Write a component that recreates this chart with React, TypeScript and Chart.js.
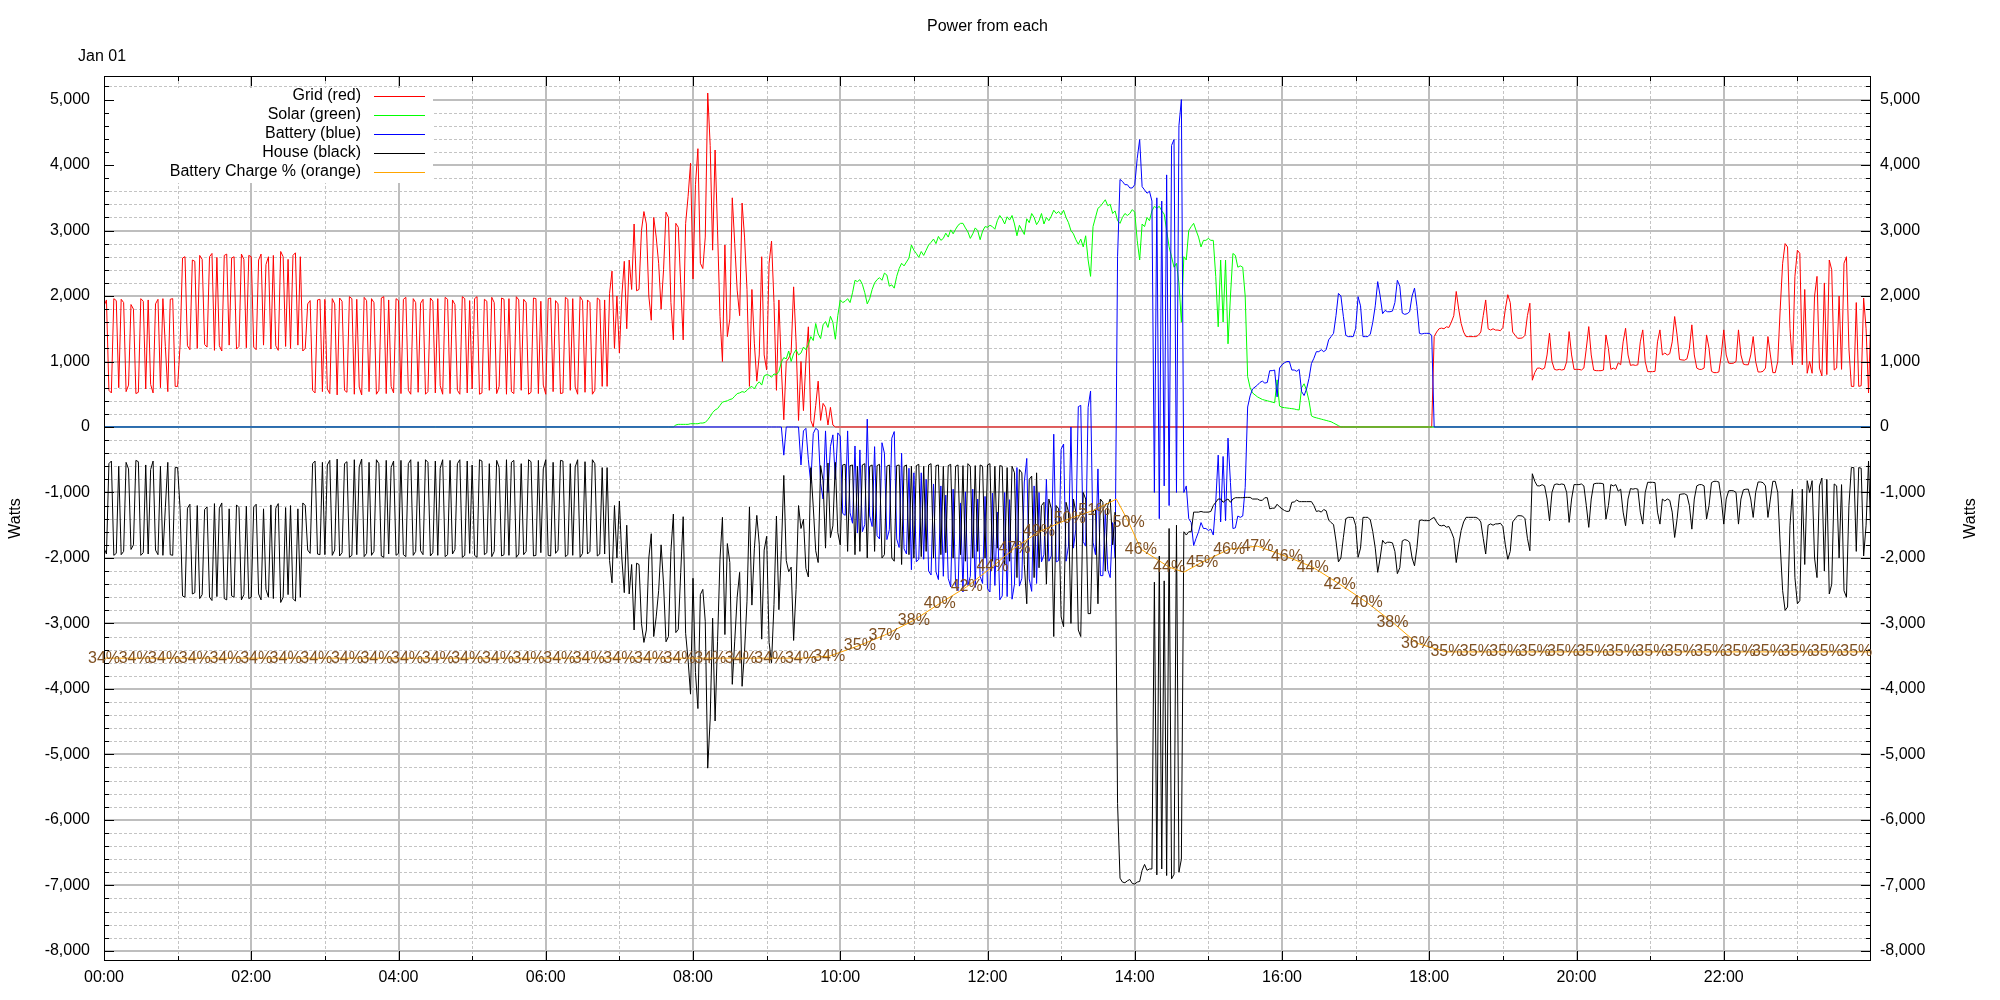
import React, { useEffect, useRef } from 'react';
import { Chart, registerables } from 'chart.js';

Chart.register(...registerables);

const FONT = '"Liberation Sans", Arial, Helvetica, sans-serif';
const STEP_MIN = 2; // sampling step of the series arrays, in minutes

// ---- axes ----
const timeTickMinutes = [0, 120, 240, 360, 480, 600, 720, 840, 960, 1080, 1200, 1320];
const timeTickLabels = ['00:00', '02:00', '04:00', '06:00', '08:00', '10:00', '12:00', '14:00', '16:00', '18:00', '20:00', '22:00'];
const wattTicks = [-8000, -7000, -6000, -5000, -4000, -3000, -2000, -1000, 0, 1000, 2000, 3000, 4000, 5000];
const WATT_MIN = -8155;
const WATT_MAX = 5360;
const DAY_MINUTES = 1440;

// ---- series (watts, one value every 2 minutes from the given start minute) ----
const IDLE = [0];

// Grid (red) 00:00 - 10:00
const gridMorning = [
  1850, 1940, 560, 520, 1960, 1930, 600, 1950, 1900, 540, 640, 1870, 1800, 510, 530, 1960, 1920, 580, 1940, 650, 520, 1880, 1950, 600, 1960, 1230, 540, 1950, 1960, 620,
  620, 1250, 2580, 2600, 1240, 1180, 2550, 2530, 1200, 2620, 2560, 1260, 1220, 2600, 2650, 1170, 2590, 1240, 1160, 2620, 2640, 1250, 2580, 2600, 1190, 1230, 2640, 2560, 1210, 2620,
  2600, 1220, 1180, 2550, 2640, 1250, 2480, 2600, 1190, 2620, 1240, 1170, 2680, 2600, 1230, 2560, 1200, 2620, 2660, 1250, 2600, 1160, 1200, 1880, 1930, 560, 520, 1940, 1950, 540,
  1950, 580, 510, 1960, 1880, 490, 1970, 1920, 560, 530, 1990, 1960, 500, 1950, 610, 490, 1980, 1930, 540, 1960, 1900, 500, 560, 1970, 1990, 510, 1940, 620, 520, 1960,
  1930, 510, 1950, 1980, 560, 500, 1960, 1900, 530, 1890, 1950, 500, 540, 1970, 1920, 520, 1960, 630, 500, 1980, 1950, 510, 1940, 1870, 560, 500, 1990, 1960, 520, 1930,
  580, 1960, 1990, 500, 520, 1950, 1920, 560, 1980, 1900, 510, 620, 1970, 1950, 500, 1960, 540, 510, 1990, 1940, 560, 1950, 1900, 500, 530, 1970, 1960, 510, 1920, 640,
  500, 1960, 1970, 540, 1930, 1880, 510, 520, 1980, 1950, 560, 1960, 610, 500, 1990, 1930, 530, 1940, 1900, 500, 560, 1970, 1940, 620, 1940, 620, 2040, 2380, 1200, 2000,
  1130, 2000, 2530, 1500, 2550, 2100, 3100, 2080, 2100, 3000, 3290, 3100, 2000, 1630, 3200, 2900, 2500, 1800, 2400, 3280, 3200, 1900, 1330, 3110, 3050, 2180, 1330, 3110, 3520, 4030,
  2260, 3700, 4250, 2500, 2420, 2900, 5100, 4300, 2700, 4230, 3000, 1690, 1000, 2780, 1380, 1650, 3500, 2800, 2090, 1700, 3420, 2900, 2100, 620, 2100, 1280, 700, 1100, 2600, 1100,
  870, 2500, 2840, 1900, 560, 1940, 900, 110, 1000, 1050, 1140, 2140, 1300, 100, 1000, 250, 1000, 1530, 100, 0, 330, 700, 100, 360, 300, 30, 300, 30, 0, 0,
  0,
];

// Grid (red) 18:00 - 24:00
const gridEvening = [
  0, 0, 1381, 1450, 1500, 1510, 1500, 1530, 1520, 1600, 1700, 2070, 1800, 1580, 1450, 1380, 1380, 1380, 1380, 1380, 1400, 1450, 1700, 1940, 1500, 1480, 1500, 1480, 1480, 1470,
  1520, 1800, 2020, 1900, 1450, 1400, 1355, 1355, 1360, 1400, 1700, 1890, 714, 830, 898, 900, 880, 900, 1100, 1432, 1000, 880, 870, 880, 870, 880, 1000, 1457, 1100, 880,
  880, 880, 870, 900, 1200, 1533, 1100, 870, 860, 860, 860, 870, 1406, 1200, 880, 900, 880, 980, 950, 1300, 1508, 1100, 940, 950, 940, 950, 1300, 1483, 1000, 845,
  845, 845, 850, 1300, 1483, 1100, 1130, 1100, 1120, 1300, 1687, 1400, 1030, 1024, 1020, 1040, 1200, 1560, 1100, 900, 880, 880, 900, 1406, 1200, 850, 830, 830, 840, 1100,
  1483, 1100, 975, 970, 975, 1000, 1483, 1100, 960, 950, 950, 1100, 1381, 1000, 840, 840, 850, 900, 1381, 1100, 830, 830, 1000, 1800, 2500, 2800, 2750, 1500, 950, 2300,
  2700, 2650, 950, 2100, 820, 1000, 820, 2000, 2300, 900, 780, 2200, 800, 2550, 2400, 870, 900, 2000, 880, 2500, 2600, 1200, 620, 620, 1900, 620, 630, 1970, 1500, 520,
  1790,
];

// Solar (green) 07:40 - 16:50
const solarDay = [
  0, 0, 0, 30, 40, 40, 40, 40, 40, 50,
  50, 50, 50, 60, 60, 70, 110, 160, 220, 260,
  280, 330, 380, 390, 400, 420, 430, 470, 510, 520,
  540, 530, 560, 600, 620, 580, 650, 690, 640, 780,
  800, 790, 760, 810, 800, 850, 990, 1060, 1040, 1160,
  1000, 1120, 1180, 1100, 1130, 1220, 1180, 1260, 1380, 1320,
  1580, 1420, 1350, 1560, 1610, 1520, 1690, 1600, 1340, 1700,
  1940, 1900, 1920, 1960, 1900, 2050, 2240, 2220, 2250, 2180,
  2050, 1880, 1960, 2100, 2200, 2250, 2280, 2240, 2350, 2320,
  2150, 2170, 2120, 2300, 2420, 2500, 2460, 2520, 2580, 2780,
  2700, 2650, 2590, 2680, 2620, 2700, 2780, 2820, 2870, 2800,
  2910, 2850, 2880, 2960, 2900, 3010, 2950, 3020, 3080, 3110,
  3110, 3040, 2980, 2880, 2950, 3040, 3000, 2860, 2990, 3060,
  3050, 3080, 3060, 3020, 3150, 3230, 3180, 3100, 3210, 3160,
  3230, 3100, 2920, 3080, 3010, 2940, 3180, 3120, 3260, 3200,
  3090, 3150, 3260, 3100, 3200, 3150, 3220, 3310, 3260, 3290,
  3240, 3310, 3200, 3120, 3000, 2950, 2860, 2790, 2870, 2750,
  2920, 2550, 2300, 3060, 3200, 3340, 3370, 3420, 3470, 3380,
  3400, 3260, 3300, 3150, 3110, 3200, 3260, 3230, 3260, 3320,
  3280, 2850, 2550, 3100, 3060, 3200, 3150, 3300, 3370, 3340,
  3370, 3300, 3250, 3000, 2750, 2600, 2440, 2500, 2200, 1600,
  2600, 2550, 3000, 3060, 3110, 3000, 2900, 2750, 2850, 2850,
  2880, 2850, 2850, 2300, 1530, 2550, 1600, 2550, 1270, 2000,
  2650, 2620, 2440, 2460, 2440, 2000, 770, 600, 520, 490,
  460, 440, 420, 410, 400, 390, 380, 370, 720, 320,
  300, 295, 290, 285, 280, 275, 265, 260, 600, 660,
  560, 400, 170, 150, 140, 130, 120, 110, 100, 90,
  80, 60, 40, 20, 0, 0,
];

// Battery (blue) 09:00 - 18:04
const batteryDay = [
  0, 0, 0, 0, 0, 0, 0, -430, 0, 0, 0, 0, 0, 0, -580, -60, -20, -500, -860, -100, -20, -50, -860, -1100, -60, -1000, -300, -120, -800, -90,
  -140, -1320, -1350, -60, -1310, -1470, -290, -1620, -350, -1600, -1490, 120, -1360, -1520, -300, -1660, -1710, -240, -400, -1720, -1570, -170, -70, -1710, -1840, -400, -1860, -1940, -630, -2180,
  -700, -2060, -2020, -700, -2020, -800, -2200, -2260, -870, -2210, -2330, -900, -2280, -1040, -2310, -2440, -950, -2420, -2500, -1160, -2520, -990, -2420, -2280, -950, -2450, -1100, -2280, -2390, -1060,
  -2470, -2520, -1010, -2420, -1300, -2640, -2580, -1000, -2590, -1110, -2630, -2400, -620, -2430, -2310, -840, -480, -2320, -2510, -900, -2390, -1000, -2060, -1950, -800, -2050, -1970, -110, -2060, -2040,
  -340, -260, -2050, -1820, 0, -1850, -1560, 310, 330, -1750, -1820, 300, 550, -1760, -1950, -640, -2270, -2270, -1270, -2180, -2300, -1460, -2000, 2600, 3780, 3750, 3700, 3700, 3650, 3650,
  3700, 4100, 4390, 3670, 3620, 3570, 3600, 3450, -1000, 3500, -1400, 3450, -900, 3850, -1200, 4300, 4390, -1000, 4600, 5000, -1000, -900, -1400, -1460, -1810, -1700, -1600, -1460, -1550, -1550,
  -1580, -1560, -1650, -1150, -430, -1450, -450, -1430, -170, -850, -1550, -1540, -1360, -1380, -1360, -925, 305, 475, 580, 610, 640, 680, 700, 670, 680, 860, 860, 870, 460, 900,
  950, 980, 1000, 1000, 870, 870, 850, 880, 540, 480, 580, 740, 970, 1050, 1150, 1150, 1180, 1150, 1180, 1330, 1380, 1430, 1700, 2040, 2000, 1690, 1400, 1380, 1380, 1380,
  1500, 1990, 1850, 1380, 1380, 1380, 1420, 1600, 1850, 2220, 2000, 1730, 1780, 1760, 1760, 1770, 1900, 2240, 2150, 1740, 1720, 1730, 1760, 2000, 2120, 1840, 1430, 1420, 1430, 1430,
  1430, 1400, 0,
];

// House (black) 00:00 - 24:00
const houseDay = [
  -1850, -1940, -560, -520, -1960, -1930, -600, -1950, -1900, -540, -640, -1870, -1800, -510, -530, -1960, -1920, -580, -1940, -650, -520, -1880, -1950, -600, -1960, -1230, -540, -1950, -1960, -620,
  -620, -1250, -2580, -2600, -1240, -1180, -2550, -2530, -1200, -2620, -2560, -1260, -1220, -2600, -2650, -1170, -2590, -1240, -1160, -2620, -2640, -1250, -2580, -2600, -1190, -1230, -2640, -2560, -1210, -2620,
  -2600, -1220, -1180, -2550, -2640, -1250, -2480, -2600, -1190, -2620, -1240, -1170, -2680, -2600, -1230, -2560, -1200, -2620, -2660, -1250, -2600, -1160, -1200, -1880, -1930, -560, -520, -1940, -1950, -540,
  -1950, -580, -510, -1960, -1880, -490, -1970, -1920, -560, -530, -1990, -1960, -500, -1950, -610, -490, -1980, -1930, -540, -1960, -1900, -500, -560, -1970, -1990, -510, -1940, -620, -520, -1960,
  -1930, -510, -1950, -1980, -560, -500, -1960, -1900, -530, -1890, -1950, -500, -540, -1970, -1920, -520, -1960, -630, -500, -1980, -1950, -510, -1940, -1870, -560, -500, -1990, -1960, -520, -1930,
  -580, -1960, -1990, -500, -520, -1950, -1920, -560, -1980, -1900, -510, -620, -1970, -1950, -500, -1960, -540, -510, -1990, -1940, -560, -1950, -1900, -500, -530, -1970, -1960, -510, -1920, -640,
  -500, -1960, -1970, -540, -1930, -1880, -510, -520, -1980, -1950, -560, -1960, -610, -500, -1990, -1930, -530, -1940, -1900, -500, -560, -1970, -1940, -620, -1940, -620, -2040, -2380, -1200, -2000,
  -1130, -2000, -2530, -1500, -2550, -2100, -3100, -2080, -2100, -3000, -3290, -3100, -2000, -1630, -3200, -2900, -2500, -1800, -2400, -3280, -3200, -1900, -1330, -3140, -3090, -2220, -1370, -3150, -3560, -4080,
  -2310, -3750, -4300, -2560, -2480, -2970, -5210, -4460, -2920, -4490, -3280, -2020, -1380, -3170, -1780, -2070, -3930, -3270, -2600, -2220, -3960, -3430, -2660, -1220, -2720, -1860, -1350, -1790, -3240, -1880,
  -1670, -3290, -3600, -2710, -1360, -2790, -1890, -740, -2040, -2210, -2140, -3260, -2480, -1200, -1550, -1410, -2160, -2290, -620, -1220, -1890, -2070, -590, -820, -1850, -550, -1690, -1510, -540, -1610,
  -1800, -580, -570, -1900, -590, -580, -1950, -600, -1900, -580, -560, -2000, -600, -580, -1900, -590, -570, -2000, -1950, -600, -580, -2000, -2050, -590, -580, -2100, -600, -580, -1950, -600,
  -2000, -590, -570, -1980, -600, -1900, -580, -560, -2000, -590, -580, -1950, -600, -1920, -590, -570, -2000, -600, -580, -1950, -590, -2050, -560, -600, -2000, -590, -1900, -580, -600, -2000,
  -580, -560, -2050, -600, -1850, -590, -600, -2100, -620, -2050, -600, -700, -2300, -650, -700, -2100, -2700, -800, -750, -2300, -700, -2150, -1200, -1150, -2400, -1100, -1250, -3200, -1200, -1250,
  -2900, -3050, -1150, -1300, -3000, -1100, -1300, -3100, -3200, -1000, -1100, -2850, -2850, -1300, -1250, -2700, -1100, -1150, -2200, -1200, -1100, -1800, -1300, -5750, -6890, -6950, -6960, -6930, -6910, -6970,
  -6980, -6950, -6940, -6770, -6680, -6770, -6750, -6750, -2370, -6840, -1970, -6750, -2350, -6850, -1550, -6900, -6830, -1500, -6800, -6600, -1600, -1650, -1600, -1600, -1300, -1300, -1300, -1290, -1300, -1300,
  -1300, -1290, -1200, -1150, -1100, -1100, -1150, -1120, -1100, -1150, -1100, -1080, -1080, -1080, -1080, -1075, -1075, -1075, -1100, -1100, -1100, -1120, -1120, -1080, -1080, -1250, -1240, -1240, -1180, -1220,
  -1250, -1275, -1290, -1285, -1150, -1145, -1115, -1140, -1140, -1140, -1140, -1140, -1140, -1200, -1290, -1280, -1300, -1260, -1280, -1420, -1460, -1490, -1740, -2060, -2000, -1690, -1400, -1380, -1380, -1380,
  -1500, -1990, -1850, -1380, -1380, -1380, -1420, -1600, -1850, -2220, -2000, -1730, -1780, -1760, -1760, -1770, -1900, -2240, -2150, -1740, -1720, -1730, -1760, -2000, -2120, -1840, -1430, -1420, -1430, -1430,
  -1430, -1400, -1381, -1450, -1500, -1510, -1500, -1530, -1520, -1600, -1700, -2070, -1800, -1580, -1450, -1380, -1380, -1380, -1380, -1380, -1400, -1450, -1700, -1940, -1500, -1480, -1500, -1480, -1480, -1470,
  -1520, -1800, -2020, -1900, -1450, -1400, -1355, -1355, -1360, -1400, -1700, -1890, -714, -830, -898, -900, -880, -900, -1100, -1432, -1000, -880, -870, -880, -870, -880, -1000, -1457, -1100, -880,
  -880, -880, -870, -900, -1200, -1533, -1100, -870, -860, -860, -860, -870, -1406, -1200, -880, -900, -880, -980, -950, -1300, -1508, -1100, -940, -950, -940, -950, -1300, -1483, -1000, -845,
  -845, -845, -850, -1300, -1483, -1100, -1130, -1100, -1120, -1300, -1687, -1400, -1030, -1024, -1020, -1040, -1200, -1560, -1100, -900, -880, -880, -900, -1406, -1200, -850, -830, -830, -840, -1100,
  -1483, -1100, -975, -970, -975, -1000, -1483, -1100, -960, -950, -950, -1100, -1381, -1000, -840, -840, -850, -900, -1381, -1100, -830, -830, -1000, -1800, -2500, -2800, -2750, -1500, -950, -2300,
  -2700, -2650, -950, -2100, -820, -1000, -820, -2000, -2300, -900, -780, -2200, -800, -2550, -2400, -870, -900, -2000, -880, -2500, -2600, -1200, -620, -620, -1900, -620, -630, -1970, -1500, -520,
  -1790,
];

// Battery charge: minute of day, level drawn on the Watts axis, and the % label shown there
const chargeMinutes = [
  0, 25, 49, 74, 99, 124, 148, 173, 198, 222, 247, 272, 296, 321, 346, 371, 395, 420, 445, 469, 494, 519, 543, 568,
  591, 616, 636, 660, 681, 703, 724, 742, 762, 787, 807, 825, 835, 845, 868, 880, 895, 917, 940, 964, 985, 1007, 1029, 1050, 1070,
  1094, 1118, 1142, 1166, 1189, 1213, 1237, 1261, 1285, 1309, 1333, 1356, 1380, 1404, 1428, 1440,
];
const chargeLevels = [
  -3530, -3530, -3530, -3530, -3530, -3530, -3530, -3530, -3530, -3530, -3530, -3530, -3530, -3530, -3530, -3530, -3530, -3530, -3530, -3530, -3530, -3530, -3530, -3530,
  -3500, -3333, -3180, -2951, -2696, -2441, -2135, -1850, -1600, -1396, -1270, -1101, -1453, -1865, -2140, -2217, -2064, -1865, -1820, -1980, -2140, -2400, -2676, -2981, -3303,
  -3435, -3435, -3435, -3435, -3435, -3435, -3435, -3435, -3435, -3435, -3435, -3435, -3435, -3435, -3435, -3435,
];
const chargePercent = [
  34, 34, 34, 34, 34, 34, 34, 34, 34, 34, 34, 34, 34, 34, 34, 34, 34, 34, 34, 34, 34, 34, 34, 34,
  34, 35, 37, 38, 40, 42, 44, 47, 49, 50, 51, null, 50, 46, 44, null, 45, 46, 47, 46, 44, 42, 40, 38, 36,
  35, 35, 35, 35, 35, 35, 35, 35, 35, 35, 35, 35, 35, 35, 35, null,
];

const legendItems = [
  { text: 'Grid (red)', color: '#ff0000' },
  { text: 'Solar (green)', color: '#00ff00' },
  { text: 'Battery (blue)', color: '#0000ff' },
  { text: 'House (black)', color: '#000000' },
  { text: 'Battery Charge % (orange)', color: '#ffa500' },
];

function seq(start: number, values: number[], step = STEP_MIN) {
  return values.map((v, i) => ({ x: start + i * step, y: v }));
}

const gridPoints = [...seq(0, gridMorning), ...seq(1080, gridEvening)];
const solarPoints = [...seq(0, IDLE), ...seq(460, solarDay), ...seq(DAY_MINUTES, IDLE)];
const batteryPoints = [...seq(0, IDLE), ...seq(540, batteryDay), ...seq(DAY_MINUTES, IDLE)];
const housePoints = seq(0, houseDay);
const chargePoints = chargeMinutes.map((m, i) => ({ x: m, y: chargeLevels[i] }));

const GRID_MAJOR = '#bebebe';
const GRID_MINOR = '#c4c4c4';
const LABEL_BROWN = '#7f5022';

const gnuplotFrame = {
  id: 'gnuplotFrame',
  beforeDatasetsDraw(chart: any) {
    const { ctx, chartArea: a, scales } = chart;
    const xs = scales.x;
    const ys = scales.y;
    ctx.save();
    const hline = (py: number) => { ctx.beginPath(); ctx.moveTo(a.left, py); ctx.lineTo(a.right, py); ctx.stroke(); };
    const vline = (px: number) => { ctx.beginPath(); ctx.moveTo(px, a.top); ctx.lineTo(px, a.bottom); ctx.stroke(); };
    // minor grid
    ctx.strokeStyle = GRID_MINOR;
    ctx.lineWidth = 1;
    ctx.setLineDash([3, 2]);
    for (let m = 60; m < DAY_MINUTES; m += 120) vline(Math.round(xs.getPixelForValue(m)) + 0.5);
    for (let v = -8000; v <= 5200; v += 200) {
      if (v % 1000 !== 0) hline(Math.round(ys.getPixelForValue(v)) + 0.5);
    }
    // major grid
    ctx.setLineDash([]);
    ctx.strokeStyle = GRID_MAJOR;
    ctx.lineWidth = 2;
    for (let m = 120; m < DAY_MINUTES; m += 120) vline(Math.round(xs.getPixelForValue(m)));
    for (const v of wattTicks) hline(Math.round(ys.getPixelForValue(v)));
    // opaque key box
    ctx.fillStyle = '#ffffff';
    ctx.fillRect(a.left + 1, a.top + 12, 328, 95);
    ctx.restore();
  },
  afterDatasetsDraw(chart: any) {
    const { ctx, chartArea: a, scales } = chart;
    const xs = scales.x;
    const ys = scales.y;
    ctx.save();
    // border
    ctx.strokeStyle = '#000';
    ctx.lineWidth = 1;
    ctx.strokeRect(a.left + 0.5, a.top + 0.5, a.right - a.left - 1, a.bottom - a.top - 1);
    // tick marks, inward on all four sides
    ctx.beginPath();
    for (let v = -8000; v <= 5200; v += 200) {
      const py = Math.round(ys.getPixelForValue(v)) + 0.5;
      const len = v % 1000 === 0 ? 10 : 5;
      ctx.moveTo(a.left, py); ctx.lineTo(a.left + len, py);
      ctx.moveTo(a.right, py); ctx.lineTo(a.right - len, py);
    }
    for (let m = 60; m < DAY_MINUTES; m += 60) {
      const px = Math.round(xs.getPixelForValue(m)) + 0.5;
      const len = m % 120 === 0 ? 10 : 5;
      ctx.moveTo(px, a.bottom); ctx.lineTo(px, a.bottom - len);
      ctx.moveTo(px, a.top); ctx.lineTo(px, a.top + len);
    }
    ctx.stroke();

    ctx.font = `16px ${FONT}`;
    ctx.textBaseline = 'middle';
    // key
    legendItems.forEach((item, i) => {
      const ry = a.top + 20 + i * 19;
      ctx.fillStyle = '#000';
      ctx.textAlign = 'right';
      ctx.fillText(item.text, a.left + 257, ry);
      ctx.strokeStyle = item.color;
      ctx.beginPath();
      ctx.moveTo(a.left + 270, ry + 0.5);
      ctx.lineTo(a.left + 321, ry + 0.5);
      ctx.stroke();
    });
    // battery charge labels
    ctx.fillStyle = LABEL_BROWN;
    ctx.textAlign = 'center';
    chargeMinutes.forEach((m, i) => {
      const p = chargePercent[i];
      if (p === null) return;
      ctx.fillText(`${p}%`, xs.getPixelForValue(m), ys.getPixelForValue(chargeLevels[i]));
    });
    // title, date, axis titles
    ctx.fillStyle = '#000';
    ctx.textAlign = 'center';
    ctx.fillText('Power from each', (a.left + a.right) / 2, 27);
    ctx.textAlign = 'left';
    ctx.fillText('Jan 01', 78, 57);
    const midY = (a.top + a.bottom) / 2;
    ctx.textAlign = 'center';
    ctx.save();
    ctx.translate(16, midY);
    ctx.rotate(-Math.PI / 2);
    ctx.fillText('Watts', 0, 0);
    ctx.restore();
    ctx.save();
    ctx.translate(1971, midY);
    ctx.rotate(-Math.PI / 2);
    ctx.fillText('Watts', 0, 0);
    ctx.restore();
    ctx.restore();
  },
};

const wattTickOptions = {
  color: '#000',
  font: { family: FONT, size: 16 },
  autoSkip: false,
  callback: (v: any) => Number(v).toLocaleString('en-US'),
};

export default function App() {
  const ref = useRef<HTMLCanvasElement>(null);
  useEffect(() => {
    document.body.style.margin = '0';
    const line = (label: string, data: any[], color: string, order: number) => ({
      label, data, borderColor: color, backgroundColor: color, borderWidth: 1,
      pointRadius: 0, fill: false, tension: 0, order, yAxisID: 'y',
    });
    const chart = new Chart(ref.current as HTMLCanvasElement, {
      type: 'line',
      data: {
        datasets: [
          line('Grid (red)', gridPoints, '#ff0000', 5),
          line('Solar (green)', solarPoints, '#00ff00', 4),
          line('Battery (blue)', batteryPoints, '#0000ff', 3),
          line('House (black)', housePoints, '#000000', 2),
          line('Battery Charge % (orange)', chargePoints, '#ffa500', 1),
        ],
      },
      options: {
        animation: false,
        responsive: false,
        devicePixelRatio: 1,
        events: [],
        layout: { padding: { left: 0, right: 0, top: 76, bottom: 0 } },
        plugins: { legend: { display: false }, title: { display: false }, tooltip: { enabled: false } },
        scales: {
          x: {
            type: 'linear', position: 'bottom', min: 0, max: DAY_MINUTES,
            afterBuildTicks: (s: any) => { s.ticks = timeTickMinutes.map((value) => ({ value })); },
            afterFit: (s: any) => { s.height = 39; },
            ticks: {
              color: '#000', font: { family: FONT, size: 16 }, autoSkip: false, maxRotation: 0, minRotation: 0, padding: 7,
              callback: (v: any) => timeTickLabels[timeTickMinutes.indexOf(Number(v))] ?? '',
            },
            grid: { display: false, drawTicks: false },
            border: { display: false },
          },
          y: {
            type: 'linear', position: 'left', min: WATT_MIN, max: WATT_MAX,
            afterBuildTicks: (s: any) => { s.ticks = wattTicks.map((value) => ({ value })); },
            afterFit: (s: any) => { s.width = 104; },
            ticks: { ...wattTickOptions, padding: 14 },
            grid: { display: false, drawTicks: false },
            border: { display: false },
          },
          y2: {
            type: 'linear', position: 'right', min: WATT_MIN, max: WATT_MAX,
            afterBuildTicks: (s: any) => { s.ticks = wattTicks.map((value) => ({ value })); },
            afterFit: (s: any) => { s.width = 129; },
            ticks: { ...wattTickOptions, padding: 9 },
            grid: { display: false, drawTicks: false },
            border: { display: false },
          },
        },
      } as any,
      plugins: [gnuplotFrame],
    });
    return () => chart.destroy();
  }, []);
  return (
    <canvas ref={ref} width={2000} height={1000} style={{ display: 'block', width: '2000px', height: '1000px' }} />
  );
}
